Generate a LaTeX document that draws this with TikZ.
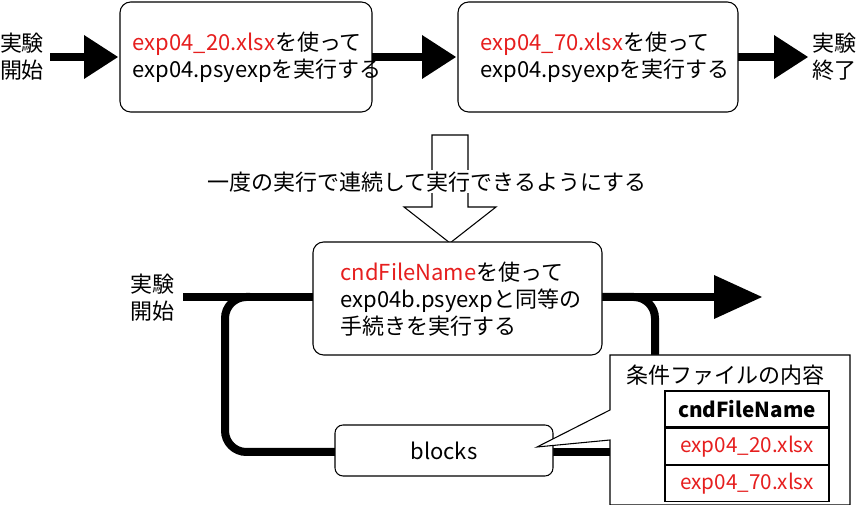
\documentclass[tikz,border=0pt]{standalone}
\usepackage{fontspec}
\setmainfont{Noto Sans CJK JP}
\usetikzlibrary{positioning}
\definecolor{fnred}{RGB}{230,30,30}
\tikzset{
  stepbox/.style={draw, rounded corners=8pt, line width=0.8pt},
  flow/.style={line width=6pt, line cap=butt},
  lbl/.style={align=left, font=\fontsize{16.5}{20.5}\selectfont},
  cell/.style={draw, line width=1pt, minimum width=123pt, minimum height=27pt, font=\fontsize{15.5}{17}\selectfont},
}
\newcommand{\bighead}[3]{\fill (#1-#3,#2-22) -- (#1,#2) -- (#1-#3,#2+22) -- cycle;}
\begin{document}
\begin{tikzpicture}[x=0.75pt,y=-0.75pt]
\useasboundingbox (0,0) rectangle (858,505);
% top row
\node (start) [lbl] at (22,57) {実験\\開始};
\node (endtop) [lbl] at (834,57) {実験\\終了};
\draw [stepbox] (120,2) rectangle (372,112);
\node (b1) [lbl, anchor=west] at (128,57) {\textcolor{fnred}{exp04\_20.xlsx}を使って\\exp04.psyexpを実行する};
\draw [stepbox] (458,2) rectangle (738,112);
\node (b2) [lbl, anchor=west] at (476,57) {\textcolor{fnred}{exp04\_70.xlsx}を使って\\exp04.psyexpを実行する};
\draw [flow] (50,57) -- (90,57); \bighead{118}{57}{34}
\draw [flow] (372,57) -- (425,57); \bighead{456}{57}{34}
\draw [flow] (738,57) -- (775,57); \bighead{808}{57}{34}
% hollow arrow
\draw [line width=0.8pt, fill=white] (432,135) -- (468,135) -- (468,207) -- (496,207) -- (450,243) -- (404,207) -- (432,207) -- cycle;
\node (note) [lbl, fill=white, inner sep=1pt] at (427,182) {一度の実行で連続して実行できるようにする};
% loop
\node (start2) [lbl] at (152,298) {実験\\開始};
\draw [flow] (183,297) -- (313,297);
\draw [flow] (602,297) -- (720,297); \bighead{762}{297}{48}
\draw [flow, rounded corners=16pt] (250,297) -- (225,297) -- (225,452) -- (336,452);
\draw [flow, rounded corners=16pt] (602,297) -- (655,297) -- (655,360);
\draw [flow] (535,452) -- (615,452);
\draw [stepbox, fill=white] (313,242) rectangle (602,355);
\node (main) [lbl, anchor=north west] at (336,257) {\textcolor{fnred}{cndFileName}を使って\\exp04b.psyexpと同等の\\手続きを実行する};
\draw [stepbox, rounded corners=6pt, fill=white] (335,425) rectangle (553,476);
\node (blocks) [lbl] at (444,451) {blocks};
% callout
\draw [line width=0.8pt, fill=white] (610,355) -- (850,355) -- (850,505) -- (610,505) -- (610,440) -- (537,447) -- (610,410) -- cycle;
\node (ctitle) [lbl] at (725,375) {条件ファイルの内容};
\node (h) [cell] at (747,409) {\bfseries cndFileName};
\node (r1) [cell, below=0pt of h, text=fnred] {exp04\_20.xlsx};
\node (r2) [cell, below=0pt of r1, text=fnred] {exp04\_70.xlsx};
\end{tikzpicture}
\end{document}
